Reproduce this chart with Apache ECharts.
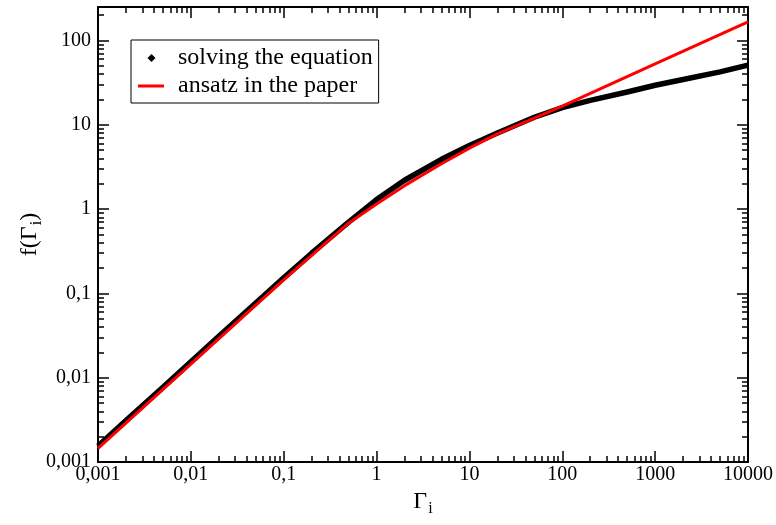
<!DOCTYPE html>
<html><head><meta charset="utf-8">
<script src="https://cdn.jsdelivr.net/npm/echarts@6/dist/echarts.min.js"></script>
<style>html,body{margin:0;padding:0;background:#fff}#c{width:776px;height:525px}</style>
</head><body><div id="c"></div>
<script>
// ---- data ----
const gammaEq = [0.001, 0.002, 0.005, 0.01, 0.02, 0.05, 0.1, 0.2, 0.5, 1, 2, 5, 10, 20, 50, 100, 200, 500, 1000, 2000, 5000, 10000];
const fEq     = [0.00155, 0.0031, 0.0077, 0.0155, 0.031, 0.077, 0.153, 0.30, 0.70, 1.30, 2.2, 3.9, 5.7, 8.0, 12.3, 16.0, 19.5, 24.5, 29.5, 34.5, 42.5, 51];
const gammaAns = [0.001, 0.01, 0.1, 0.5, 1, 2, 5, 10, 20, 50, 100, 1000, 10000];
const fAns     = [0.00145, 0.0145, 0.145, 0.68, 1.15, 1.9, 3.45, 5.3, 7.8, 12.0, 16.7, 52.8, 167];
const seriesNames = ['solving the equation', 'ansatz in the paper'];
const xMajor = [0.001, 0.01, 0.1, 1, 10, 100, 1000, 10000];
const yMajor = [0.001, 0.01, 0.1, 1, 10, 100];
const xTickLabels = ['0,001', '0,01', '0,1', '1', '10', '100', '1000', '10000'];
const yTickLabels = ['0,001', '0,01', '0,1', '1', '10', '100'];
const xRange = [0.001, 10000];
const yRange = [0.001, 250];

function minorOf(majors, max) {
  const out = [];
  for (const m of majors) for (let k = 2; k <= 9; k++) { const v = +(m * k).toPrecision(6); if (v < max) out.push(v); }
  return out;
}
function labelFor(majors, labels) {
  return function (v) {
    const i = majors.findIndex(m => Math.abs(Math.log10(v) - Math.log10(m)) < 1e-6);
    return i >= 0 ? labels[i] : '';
  };
}
const FONT = 'Liberation Serif';
const xMinor = minorOf(xMajor, xRange[1]);
const yMinor = minorOf(yMajor, yRange[1]);
const lineC = '#000';
const rich = {
  g: { fontFamily: FONT, fontSize: 24, lineHeight: 24, color: '#000', verticalAlign: 'top' },
  s: { fontFamily: FONT, fontSize: 16, lineHeight: 16, color: '#000', verticalAlign: 'top', padding: [11, 0, 0, 1] }
};

function mkAxis(pos, range, ticks, len, showLine, label) {
  return {
    type: 'log', position: pos, min: range[0], max: range[1], logBase: 10,
    axisLine: { show: showLine, onZero: false, lineStyle: { color: lineC, width: 2 } },
    axisTick: { show: true, inside: true, length: len, customValues: ticks, lineStyle: { color: lineC, width: 1.5 } },
    axisLabel: label ? label : { show: false },
    splitLine: { show: false }, minorTick: { show: false }, minorSplitLine: { show: false }
  };
}

const xLabel = { show: true, customValues: xMajor, formatter: labelFor(xMajor, xTickLabels), fontFamily: FONT, fontSize: 20, color: '#000', margin: 3 };
const yLabel = { show: true, customValues: yMajor, formatter: labelFor(yMajor, yTickLabels), fontFamily: FONT, fontSize: 20, color: '#000', margin: 7 };

const xMain = Object.assign(mkAxis('bottom', xRange, xMajor, 11, true, xLabel), {
  name: '{g|Γ}{s|i}', nameLocation: 'middle', nameGap: 28, nameMoveOverlap: false,
  nameTextStyle: { rich: rich, fontFamily: FONT, fontSize: 24, color: '#000' }
});
const yMain = Object.assign(mkAxis('left', yRange, yMajor, 11, true, yLabel), {
  name: '{g|f(Γ}{s|i}{g|)}', nameLocation: 'middle', nameGap: 56, nameMoveOverlap: false,
  nameTextStyle: { rich: rich, fontFamily: FONT, fontSize: 24, color: '#000' }
});

const legendText = { fontFamily: FONT, fontSize: 24, lineHeight: 24, color: '#000' };

const option = {
  animation: false,
  backgroundColor: '#fff',
  grid: { left: 98, right: 28, top: 7, bottom: 63, containLabel: false },
  xAxis: [
    xMain,
    mkAxis('bottom', xRange, xMinor, 6, false),
    mkAxis('top', xRange, xMajor, 11, true),
    mkAxis('top', xRange, xMinor, 6, false)
  ],
  yAxis: [
    yMain,
    mkAxis('left', yRange, yMinor, 6, false),
    mkAxis('right', yRange, yMajor, 11, true),
    mkAxis('right', yRange, yMinor, 6, false)
  ],
  legend: [
    {
      left: 131, top: 40, orient: 'vertical',
      padding: [6, 6, 33, 16.5], itemWidth: 8, itemHeight: 8,
      borderColor: '#000', borderWidth: 1, backgroundColor: '#fff',
      textStyle: Object.assign({ padding: [0, 0, 0, 17.5] }, legendText),
      data: [{ name: seriesNames[0], icon: 'diamond' }]
    },
    {
      left: 131, top: 74, orient: 'vertical',
      padding: [0, 0, 0, 7], itemWidth: 26, itemHeight: 3,
      textStyle: Object.assign({ padding: [0, 0, 0, 9] }, legendText),
      data: [{ name: seriesNames[1], icon: 'rect' }]
    }
  ],
  series: [
    {
      name: seriesNames[0], type: 'line', xAxisIndex: 0, yAxisIndex: 0,
      data: gammaEq.map((g, i) => [g, fEq[i]]),
      symbol: 'none', smooth: false,
      itemStyle: { color: '#000' },
      lineStyle: { color: '#000', width: 5.5 }
    },
    {
      name: seriesNames[1], type: 'line', xAxisIndex: 0, yAxisIndex: 0,
      data: gammaAns.map((g, i) => [g, fAns[i]]),
      symbol: 'none', smooth: false,
      itemStyle: { color: '#ff0000' },
      lineStyle: { color: '#ff0000', width: 3 }
    }
  ]
};
const chart = echarts.init(document.getElementById('c'), null, { renderer: 'canvas' });
chart.setOption(option);
</script></body></html>
